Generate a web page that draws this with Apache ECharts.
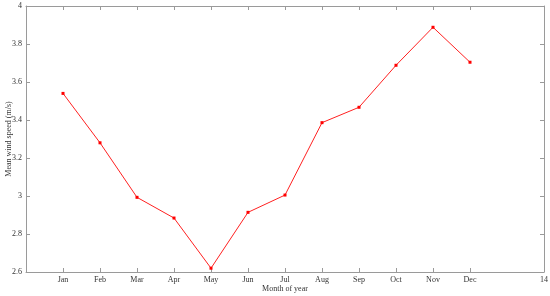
<!DOCTYPE html>
<html>
<head>
<meta charset="utf-8">
<script src="https://cdn.jsdelivr.net/npm/echarts@6/dist/echarts.min.js"></script>
<style>
	html, body { margin: 0; padding: 0; background: #fff; }
	#main { width: 550px; height: 296px; }
</style>
</head>
<body>
<div id="main"></div>
<script>
const months = ['Jan', 'Feb', 'Mar', 'Apr', 'May', 'Jun', 'Jul', 'Aug', 'Sep', 'Oct', 'Nov', 'Dec'];
const monthNumbers = [1, 2, 3, 4, 5, 6, 7, 8, 9, 10, 11, 12];
const windSpeed = [3.54, 3.28, 2.993, 2.884, 2.62, 2.914, 3.005, 3.386, 3.467, 3.688, 3.888, 3.704];

const font = 'Liberation Serif';
const axisColor = '#9a9a9a';
const textColor = '#333';

const myChart = echarts.init(document.getElementById('main'));

// frame sides without labels
const plainX = {
	type: 'value',
	min: 0,
	max: 14,
	interval: 1,
	axisLine: { show: true, onZero: false, lineStyle: { color: axisColor, width: 1 } },
	axisTick: { show: true, inside: true, length: 4, customValues: monthNumbers, lineStyle: { color: axisColor } },
	axisLabel: { show: false },
	splitLine: { show: false }
};
const plainY = {
	type: 'value',
	min: 2.6,
	max: 4,
	interval: 0.2,
	axisLine: { show: true, onZero: false, lineStyle: { color: axisColor, width: 1 } },
	axisTick: { show: true, inside: true, length: 4, lineStyle: { color: axisColor } },
	axisLabel: { show: false },
	splitLine: { show: false }
};

const option = {
	animation: false,
	grid: { left: 26, right: 6, top: 6, bottom: 24, containLabel: false, outerBoundsMode: 'none' },
	xAxis: [
		Object.assign({}, plainX, {
			position: 'bottom',
			name: 'Month of year',
			nameLocation: 'middle',
			nameGap: 13,
			nameMoveOverlap: false,
			nameTextStyle: { fontFamily: font, fontSize: 8, color: textColor },
			axisLabel: {
				show: true,
				customValues: monthNumbers.concat([14]),
				margin: 4,
				fontFamily: font,
				fontSize: 8,
				color: textColor,
				formatter: function (v) {
					return v === 14 ? '14' : months[v - 1];
				}
			}
		}),
		Object.assign({}, plainX, { position: 'top' })
	],
	yAxis: [
		Object.assign({}, plainY, {
			position: 'left',
			name: 'Mean wind speed (m/s)',
			nameLocation: 'middle',
			nameGap: 13,
			nameMoveOverlap: false,
			nameTextStyle: { fontFamily: font, fontSize: 8, color: textColor },
			axisLabel: {
				show: true,
				margin: 4,
				fontFamily: font,
				fontSize: 8,
				color: textColor,
				formatter: function (v) {
					return String(parseFloat(v.toFixed(1)));
				}
			}
		}),
		Object.assign({}, plainY, { position: 'right' })
	],
	series: [
		{
			type: 'line',
			data: monthNumbers.map((m, i) => [m, windSpeed[i]]),
			symbol: 'rect',
			symbolSize: 3,
			lineStyle: { color: '#ff2020', width: 1 },
			itemStyle: { color: '#ff0000' }
		}
	]
};
myChart.setOption(option);
</script>
</body>
</html>
